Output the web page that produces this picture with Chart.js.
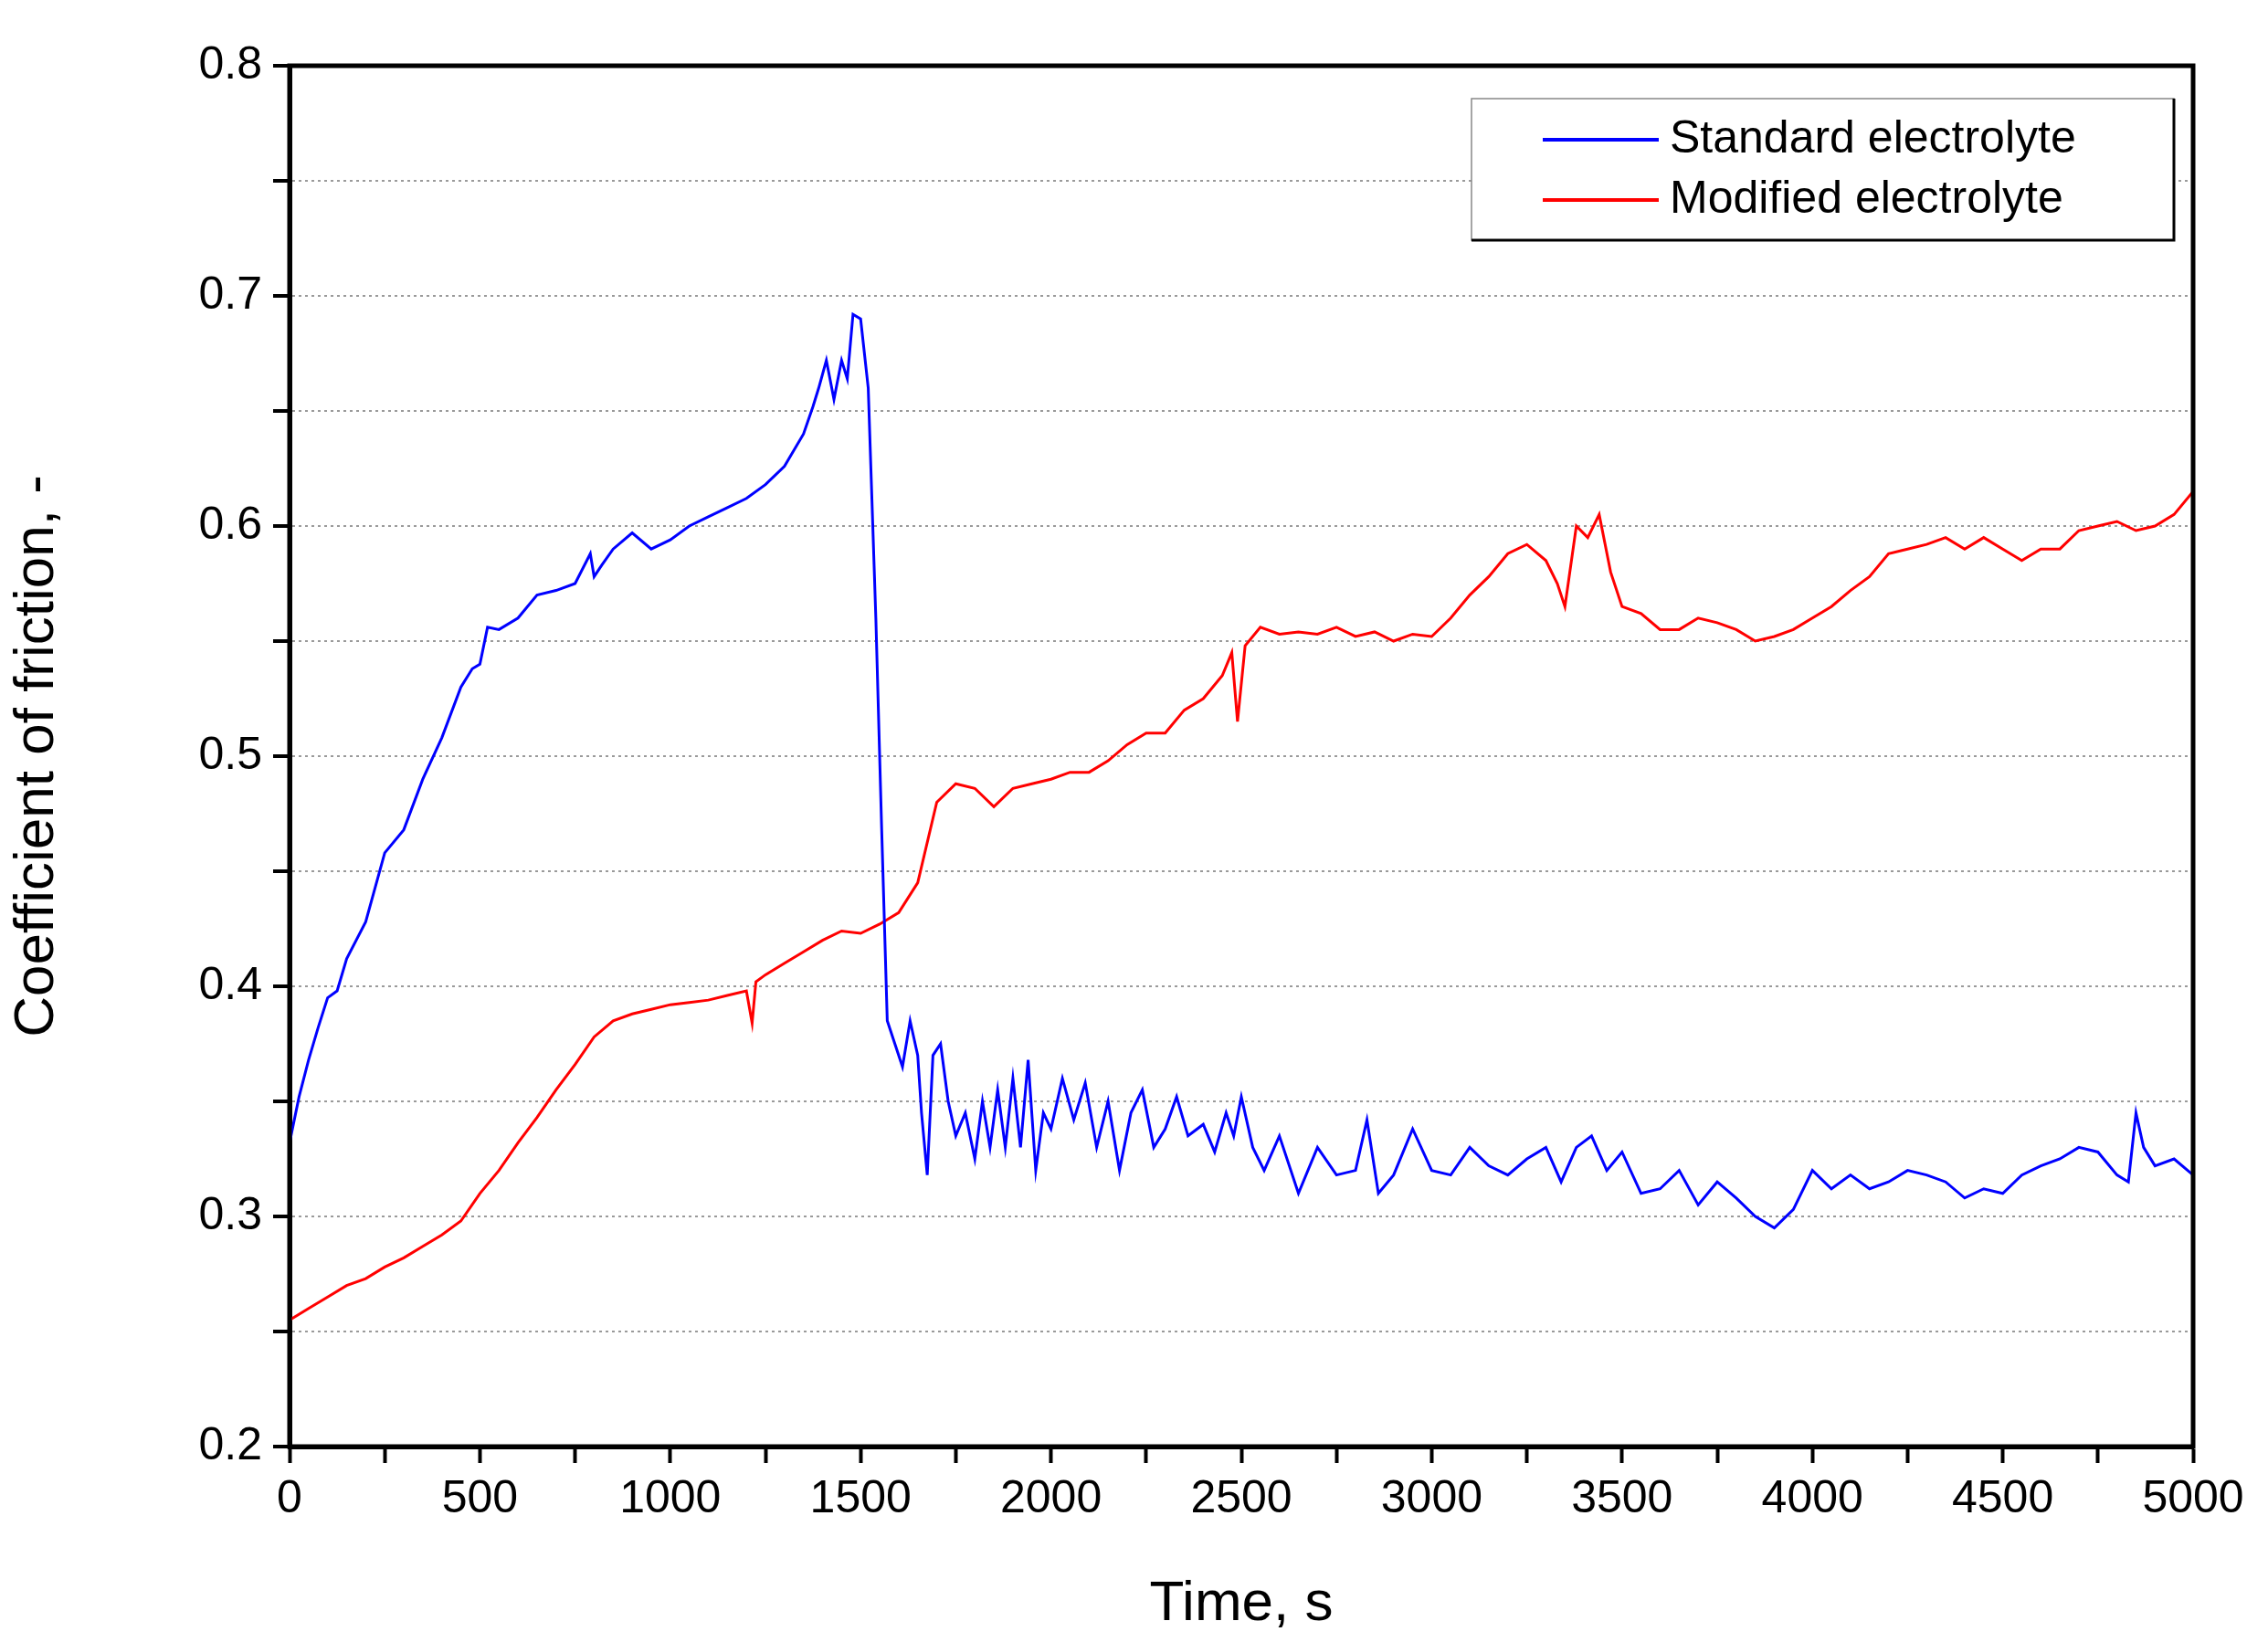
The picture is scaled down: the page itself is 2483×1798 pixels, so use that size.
<!DOCTYPE html>
<html>
<head>
<meta charset="utf-8">
<script src="https://cdn.jsdelivr.net/npm/chart.js@4.4.0/dist/chart.umd.min.js"></script>
<style>
  html, body { margin: 0; padding: 0; background: #fff; }
  #wrap { width: 2483px; height: 1798px; }
</style>
</head>
<body>
<div id="wrap"><canvas id="cof"></canvas></div>
<script>
// values
const stdTime = [0, 25, 50, 75, 100, 125, 150, 200, 250, 300, 350, 400, 450, 480, 500, 520, 550, 600, 650, 700, 750, 790, 800, 820, 850, 900, 950, 1000, 1050, 1100, 1150, 1200, 1250, 1300, 1350, 1375, 1390, 1410, 1430, 1450, 1465, 1480, 1500, 1520, 1540, 1555, 1570, 1590, 1610, 1630, 1650, 1660, 1675, 1690, 1710, 1730, 1750, 1775, 1800, 1820, 1840, 1860, 1880, 1900, 1920, 1940, 1960, 1980, 2000, 2030, 2060, 2090, 2120, 2150, 2180, 2210, 2240, 2270, 2300, 2330, 2360, 2400, 2430, 2460, 2480, 2500, 2530, 2560, 2600, 2650, 2700, 2750, 2800, 2830, 2860, 2900, 2950, 3000, 3050, 3100, 3150, 3200, 3250, 3300, 3340, 3380, 3420, 3460, 3500, 3550, 3600, 3650, 3700, 3750, 3800, 3850, 3900, 3950, 4000, 4050, 4100, 4150, 4200, 4250, 4300, 4350, 4400, 4450, 4500, 4550, 4600, 4650, 4700, 4750, 4800, 4830, 4850, 4870, 4900, 4950, 5000];
const stdCof  = [0.332, 0.352, 0.368, 0.382, 0.395, 0.398, 0.412, 0.428, 0.458, 0.468, 0.49, 0.508, 0.53, 0.538, 0.54, 0.556, 0.555, 0.56, 0.57, 0.572, 0.575, 0.588, 0.578, 0.583, 0.59, 0.597, 0.59, 0.594, 0.6, 0.604, 0.608, 0.612, 0.618, 0.626, 0.64, 0.652, 0.66, 0.672, 0.655, 0.672, 0.664, 0.692, 0.69, 0.66, 0.56, 0.47, 0.385, 0.375, 0.365, 0.385, 0.37, 0.345, 0.318, 0.37, 0.375, 0.35, 0.335, 0.345, 0.325, 0.35, 0.33, 0.355, 0.33, 0.36, 0.33, 0.368, 0.32, 0.345, 0.338, 0.36, 0.342, 0.358, 0.33, 0.35, 0.32, 0.345, 0.355, 0.33, 0.338, 0.352, 0.335, 0.34, 0.328, 0.345, 0.335, 0.352, 0.33, 0.32, 0.335, 0.31, 0.33, 0.318, 0.32, 0.342, 0.31, 0.318, 0.338, 0.32, 0.318, 0.33, 0.322, 0.318, 0.325, 0.33, 0.315, 0.33, 0.335, 0.32, 0.328, 0.31, 0.312, 0.32, 0.305, 0.315, 0.308, 0.3, 0.295, 0.303, 0.32, 0.312, 0.318, 0.312, 0.315, 0.32, 0.318, 0.315, 0.308, 0.312, 0.31, 0.318, 0.322, 0.325, 0.33, 0.328, 0.318, 0.315, 0.345, 0.33, 0.322, 0.325, 0.318];
const modTime = [0, 50, 100, 150, 200, 250, 300, 350, 400, 450, 500, 550, 600, 650, 700, 750, 800, 850, 900, 950, 1000, 1050, 1100, 1150, 1200, 1215, 1225, 1250, 1300, 1350, 1400, 1450, 1500, 1550, 1600, 1650, 1700, 1750, 1800, 1850, 1900, 1950, 2000, 2050, 2100, 2150, 2200, 2250, 2300, 2350, 2400, 2450, 2475, 2490, 2510, 2550, 2600, 2650, 2700, 2750, 2800, 2850, 2900, 2950, 3000, 3050, 3100, 3150, 3200, 3250, 3300, 3330, 3350, 3380, 3410, 3440, 3470, 3500, 3550, 3600, 3650, 3700, 3750, 3800, 3850, 3900, 3950, 4000, 4050, 4100, 4150, 4200, 4250, 4300, 4350, 4400, 4450, 4500, 4550, 4600, 4650, 4700, 4750, 4800, 4850, 4900, 4950, 5000];
const modCof  = [0.255, 0.26, 0.265, 0.27, 0.273, 0.278, 0.282, 0.287, 0.292, 0.298, 0.31, 0.32, 0.332, 0.343, 0.355, 0.366, 0.378, 0.385, 0.388, 0.39, 0.392, 0.393, 0.394, 0.396, 0.398, 0.384, 0.402, 0.405, 0.41, 0.415, 0.42, 0.424, 0.423, 0.427, 0.432, 0.445, 0.48, 0.488, 0.486, 0.478, 0.486, 0.488, 0.49, 0.493, 0.493, 0.498, 0.505, 0.51, 0.51, 0.52, 0.525, 0.535, 0.545, 0.515, 0.548, 0.556, 0.553, 0.554, 0.553, 0.556, 0.552, 0.554, 0.55, 0.553, 0.552, 0.56, 0.57, 0.578, 0.588, 0.592, 0.585, 0.575, 0.565, 0.6, 0.595, 0.605, 0.58, 0.565, 0.562, 0.555, 0.555, 0.56, 0.558, 0.555, 0.55, 0.552, 0.555, 0.56, 0.565, 0.572, 0.578, 0.588, 0.59, 0.592, 0.595, 0.59, 0.595, 0.59, 0.585, 0.59, 0.59, 0.598, 0.6, 0.602, 0.598, 0.6, 0.605, 0.615];
const seriesNames = ['Standard electrolyte', 'Modified electrolyte'];
const seriesColors = ['#0000ff', '#ff0000'];
const xTicks = [0, 500, 1000, 1500, 2000, 2500, 3000, 3500, 4000, 4500, 5000];

const toPoints = ( xs, ys ) => xs.map( ( x, i ) => ( { x: x, y: ys[ i ] } ) );

const FONT = 'Liberation Sans, Arial, sans-serif';

// frame around plot and the legend box
const framePlugin = {
	id: 'frame',
	afterDraw: ( chart ) => {
		const ctx = chart.ctx;
		const a = chart.chartArea;
		ctx.save();
		ctx.strokeStyle = '#000';
		ctx.lineWidth = 5;
		ctx.strokeRect( a.left, a.top, a.right - a.left, a.bottom - a.top );

		// legend
		const bx = 1611, by = 108, bw = 769, bh = 155;
		ctx.fillStyle = '#fff';
		ctx.fillRect( bx, by, bw, bh );
		ctx.lineWidth = 1.5;
		ctx.strokeStyle = '#888';
		ctx.strokeRect( bx, by, bw, bh );
		ctx.lineWidth = 3;
		ctx.strokeStyle = '#000';
		ctx.beginPath();
		ctx.moveTo( bx, by + bh );
		ctx.lineTo( bx + bw, by + bh );
		ctx.lineTo( bx + bw, by );
		ctx.stroke();
		ctx.font = '50px ' + FONT;
		ctx.textBaseline = 'middle';
		chart.data.datasets.forEach( ( ds, i ) => {
			const y = by + 45 + i * 66;
			ctx.strokeStyle = ds.borderColor;
			ctx.lineWidth = 4;
			ctx.beginPath();
			ctx.moveTo( bx + 78, y );
			ctx.lineTo( bx + 205, y );
			ctx.stroke();
			ctx.fillStyle = '#000';
			ctx.fillText( ds.label, bx + 217, y );
		} );
		ctx.restore();
	}
};

const ctx = document.getElementById( 'cof' ).getContext( '2d' );
new Chart( ctx, {
	type: 'line',
	data: {
		datasets: [
			{ label: seriesNames[0], data: toPoints( stdTime, stdCof ), borderColor: seriesColors[0], borderWidth: 3, pointRadius: 0, fill: false, tension: 0 },
			{ label: seriesNames[1], data: toPoints( modTime, modCof ), borderColor: seriesColors[1], borderWidth: 3, pointRadius: 0, fill: false, tension: 0 },
		],
	},
	options: {
		responsive: true,
		maintainAspectRatio: false,
		animation: false,
		layout: { padding: { top: 72, right: 82, left: 0, bottom: 0 } },
		plugins: { legend: { display: false }, tooltip: { enabled: false } },
		scales: {
			x: {
				type: 'linear',
				min: 0,
				max: 5000,
				afterBuildTicks: ( s ) => { s.ticks = []; for ( let v = 0; v <= 5000; v += 250 ) s.ticks.push( { value: v } ); },
				afterFit: ( s ) => { s.height = 214; },
				ticks: {
					color: '#000',
					font: { family: FONT, size: 50 },
					padding: 10,
					maxRotation: 0,
					autoSkip: false,
					callback: ( v ) => xTicks.includes( v ) ? String( v ) : '',
				},
				grid: { display: true, drawOnChartArea: false, drawTicks: true, tickLength: 18, tickColor: '#000', tickWidth: 4 },
				border: { display: true, color: '#000', width: 5 },
				title: { display: true, text: 'Time, s', color: '#000', font: { family: FONT, size: 62 }, padding: { top: 8 } },
			},
			y: {
				min: 0.2,
				max: 0.8,
				afterBuildTicks: ( s ) => { s.ticks = []; for ( let i = 0; i <= 12; i++ ) s.ticks.push( { value: +( 0.2 + i * 0.05 ).toFixed( 2 ) } ); },
				afterFit: ( s ) => { s.width = 317; },
				ticks: {
					color: '#000',
					font: { family: FONT, size: 50 },
					padding: 12,
					callback: ( v ) => Math.round( v * 100 ) % 10 === 0 ? v.toFixed( 1 ) : '',
				},
				grid: {
					display: true,
					color: '#9a9a9a',
					lineWidth: 2,
					tickLength: 18,
					tickColor: '#000',
					tickWidth: 4,
				},
				border: { display: true, color: '#000', width: 5, dash: [ 3, 4 ] },
				title: { display: true, text: 'Coefficient of friction, -', color: '#000', font: { family: FONT, size: 62 }, padding: { bottom: 40 } },
			},
		},
	},
	plugins: [ framePlugin ],
} );
</script>
</body>
</html>
